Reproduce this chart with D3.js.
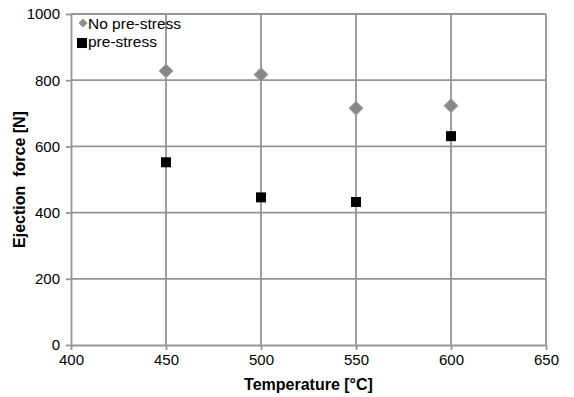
<!DOCTYPE html>
<meta charset="utf-8">
<style>
body { margin: 0; background: #fff; font-family: "Liberation Sans", Arial, sans-serif; }
.tick text { font-size: 15px; fill: #000; font-family: "Liberation Sans", Arial, sans-serif; }
</style>
<body>
<script src="https://d3js.org/d3.v7.min.js"></script>
<script>

var temps = [450, 500, 550, 600];
var noPreStress = [828, 817, 715, 723];
var preStress = [552, 446, 432, 631];
var xTicks = [400, 450, 500, 550, 600, 650];
var yTicks = [0, 200, 400, 600, 800, 1000];

var margin = {top: 14, right: 28, bottom: 52, left: 71},
    width = 574 - margin.left - margin.right,
    height = 397 - margin.top - margin.bottom;

var svg = d3.select("body").append("svg")
    .attr("width", 574)
    .attr("height", 397)
  .append("g")
    .attr("transform", "translate(" + margin.left + "," + margin.top + ")");

var x = d3.scaleLinear().domain([400, 650]).range([0, width]);
var y = d3.scaleLinear().domain([0, 1000]).range([height, 0]);

var grid = "#959595";

// gridlines
svg.selectAll(".hgrid")
    .data(yTicks.slice(1))
  .enter().append("line")
    .attr("x1", 0).attr("x2", width)
    .attr("y1", function(d) { return y(d); })
    .attr("y2", function(d) { return y(d); })
    .attr("stroke", grid).attr("stroke-width", 1.8);

svg.selectAll(".vgrid")
    .data(xTicks.slice(1))
  .enter().append("line")
    .attr("y1", 0).attr("y2", height)
    .attr("x1", function(d) { return x(d); })
    .attr("x2", function(d) { return x(d); })
    .attr("stroke", grid).attr("stroke-width", 1.8);

// axes
var xAxis = svg.append("g")
    .attr("transform", "translate(0," + height + ")")
    .call(d3.axisBottom(x).tickValues(xTicks).tickSize(5).tickPadding(4).tickSizeOuter(0));
var yAxis = svg.append("g")
    .call(d3.axisLeft(y).tickValues(yTicks).tickFormat(d3.format("d")).tickSize(5).tickPadding(6).tickSizeOuter(0));

[xAxis, yAxis].forEach(function(a) {
  a.select(".domain").attr("stroke", grid).attr("stroke-width", 1.8);
  a.selectAll(".tick line").attr("stroke", grid).attr("stroke-width", 1.8);
});

// markers
svg.selectAll(".nops")
    .data(temps)
  .enter().append("path")
    .attr("d", "M0,-7L7,0L0,7L-7,0Z")
    .attr("fill", "#878787")
    .attr("stroke", "#a5a5a5")
    .attr("stroke-width", 1)
    .attr("transform", function(d, i) {
      return "translate(" + x(d) + "," + y(noPreStress[i]) + ")"; });

svg.selectAll(".ps")
    .data(temps)
  .enter().append("rect")
    .attr("width", 10).attr("height", 10)
    .attr("fill", "#000")
    .attr("x", function(d) { return x(d) - 5; })
    .attr("y", function(d, i) { return y(preStress[i]) - 5; });

// legend
var legend = svg.append("g");
legend.append("path")
    .attr("d", "M0,-4.5L4.5,0L0,4.5L-4.5,0Z")
    .attr("fill", "#8c8c8c")
    .attr("transform", "translate(12,9)");
legend.append("text")
    .attr("x", 17).attr("y", 15)
    .style("font-size", "15.5px")
    .text("No pre-stress");
legend.append("rect")
    .attr("x", 6).attr("y", 24).attr("width", 10).attr("height", 10)
    .attr("fill", "#000");
legend.append("text")
    .attr("x", 17).attr("y", 33)
    .style("font-size", "15.5px")
    .text("pre-stress");

// axis titles
svg.append("text")
    .attr("x", width / 2)
    .attr("y", height + 45)
    .style("text-anchor", "middle")
    .style("font-size", "16px")
    .style("font-weight", "bold")
    .text("Temperature [°C]");

svg.append("text")
    .attr("transform", "translate(-46," + (height / 2) + ") rotate(-90)")
    .style("text-anchor", "middle")
    .style("font-size", "16px")
    .style("font-weight", "bold")
    .style("white-space", "pre")
    .text("Ejection  force [N]");

</script>
</body>
